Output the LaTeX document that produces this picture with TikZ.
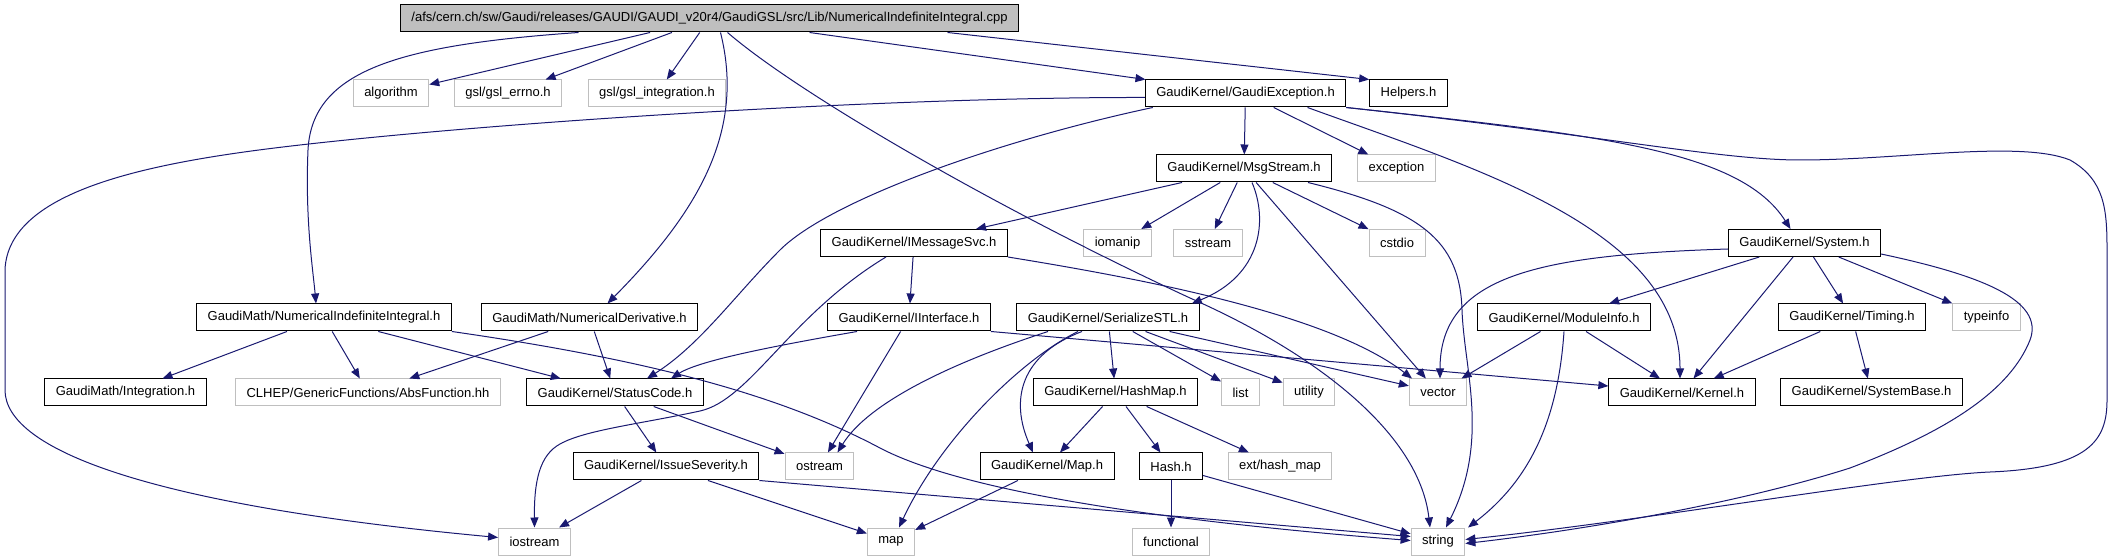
\documentclass[tikz,border=0pt]{standalone}
\usepackage{fontspec}
\setmainfont{Liberation Sans}
\usetikzlibrary{arrows.meta}
\definecolor{dox-edge}{HTML}{191970}
\definecolor{dox-gray}{HTML}{BFBFBF}
\tikzset{
  hdr/.style={draw=black, line width=0.5pt, minimum height=13.5pt, inner xsep=5.5pt, inner ysep=0pt,
    font=\fontsize{6.5}{7.8}\selectfont},
  sys/.style={hdr, draw=dox-gray},
  dep/.style={->, dox-edge, line width=0.5pt},
}

\begin{document}
\begin{tikzpicture}[x=0.5pt, y=-0.5pt, >={Triangle[length=5pt,width=4pt]}]
        \useasboundingbox (0,0) rectangle (2113,560);
        % file nodes, row by row
        \node[hdr, fill=dox-gray] (root) at (709.5,18.5) {/afs/cern.ch/sw/Gaudi/releases/GAUDI/GAUDI\_v20r4/GaudiGSL/src/Lib/NumericalIndefiniteIntegral.cpp};
        \node[sys] (algo) at (391,93.5) {algorithm};
        \node[sys] (gslerrno) at (508,93.5) {gsl/gsl\_errno.h};
        \node[sys] (gslinteg) at (657,93.5) {gsl/gsl\_integration.h};
        \node[hdr] (gexc) at (1245.5,93.5) {GaudiKernel/GaudiException.h};
        \node[hdr] (helpers) at (1408.5,93.5) {Helpers.h};
        \node[hdr] (msgstr) at (1244,168.5) {GaudiKernel/MsgStream.h};
        \node[sys] (except) at (1396.5,168.5) {exception};
        \node[hdr] (imsgsvc) at (914,243) {GaudiKernel/IMessageSvc.h};
        \node[sys] (iomanip) at (1117.5,243) {iomanip};
        \node[sys] (sstream) at (1208,243) {sstream};
        \node[sys] (cstdio) at (1397,243) {cstdio};
        \node[hdr] (system) at (1804.5,243) {GaudiKernel/System.h};
        \node[hdr] (numint) at (324,317.5) {GaudiMath/NumericalIndefiniteIntegral.h};
        \node[hdr] (numder) at (589.5,317.5) {GaudiMath/NumericalDerivative.h};
        \node[hdr] (iiface) at (909,317.5) {GaudiKernel/IInterface.h};
        \node[hdr] (serstl) at (1108,317.5) {GaudiKernel/SerializeSTL.h};
        \node[hdr] (modinfo) at (1564,317.5) {GaudiKernel/ModuleInfo.h};
        \node[hdr] (timing) at (1852,317.5) {GaudiKernel/Timing.h};
        \node[sys] (typeinfo) at (1986.5,317.5) {typeinfo};
        \node[hdr] (integr) at (125.5,392.5) {GaudiMath/Integration.h};
        \node[sys] (absfun) at (368,392.5) {CLHEP/GenericFunctions/AbsFunction.hh};
        \node[hdr] (statcode) at (615,392.5) {GaudiKernel/StatusCode.h};
        \node[hdr] (hashmap) at (1115.5,392.5) {GaudiKernel/HashMap.h};
        \node[sys] (list) at (1240.5,392.5) {list};
        \node[sys] (utility) at (1309,392.5) {utility};
        \node[sys] (vector) at (1438,392.5) {vector};
        \node[hdr] (kernel) at (1682,392.5) {GaudiKernel/Kernel.h};
        \node[hdr] (sysbase) at (1871.5,392.5) {GaudiKernel/SystemBase.h};
        \node[hdr] (severity) at (666,466.5) {GaudiKernel/IssueSeverity.h};
        \node[sys] (ostream) at (819.5,466.5) {ostream};
        \node[hdr] (maph) at (1047,466.5) {GaudiKernel/Map.h};
        \node[hdr] (hashh) at (1171,466.5) {Hash.h};
        \node[sys] (exthash) at (1280,466.5) {ext/hash\_map};
        \node[sys] (iostream) at (534.5,541.5) {iostream};
        \node[sys] (map) at (891,541.5) {map};
        \node[sys] (functional) at (1171,541.5) {functional};
        \node[sys] (string) at (1438,541.5) {string};
        % includes of the source file
        \draw[dep] (root) -- (algo);
        \draw[dep] (root) -- (gslerrno);
        \draw[dep] (root) -- (gslinteg);
        \draw[dep] ([xshift=-65.5pt]root.south) .. controls (400,45) and (312,70) .. (308,150) .. controls (305,220) and (313,270) .. ([xshift=-4pt]numint.north);
        \draw[dep] ([xshift=5.5pt]root.south) .. controls (745,130) and (700,210) .. ([xshift=9pt]numder.north);
        \draw[dep] ([xshift=9pt]root.south) .. controls (800,95) and (1000,210) .. (1190,298) .. controls (1330,360) and (1420,440) .. ([xshift=-4pt]string.north);
        \draw[dep] (root) -- (gexc);
        \draw[dep] ([xshift=119pt]root.south) -- (helpers.north west);
        % GaudiException.h
        \draw[dep] ([yshift=-2pt]gexc.west) .. controls (900,97) and (520,120) .. (300,145) .. controls (150,162) and (8,190) .. (5,270) -- (5,390) .. controls (5,450) and (150,505) .. ([yshift=2pt]iostream.west);
        \draw[dep] ([xshift=4pt]gexc.south west) .. controls (1000,140) and (830,200) .. (780,250) .. controls (735,295) and (700,345) .. ([xshift=16pt]statcode.north);
        \draw[dep] (gexc) -- (msgstr);
        \draw[dep] (gexc) -- (except);
        \draw[dep] ([xshift=31pt]gexc.south) .. controls (1480,170) and (1680,230) .. ([xshift=-1pt]kernel.north);
        \draw[dep] (gexc.south east) .. controls (1600,135) and (1740,150) .. ([xshift=-7pt]system.north);
        \draw[dep] (gexc.south east) .. controls (1600,135) and (1720,160) .. (1800,160) .. controls (1900,160) and (2020,140) .. (2070,160) .. controls (2105,180) and (2107,210) .. (2107,250) -- (2107,400) .. controls (2107,440) and (2090,468) .. (1990,472) .. controls (1900,476) and (1650,520) .. ([yshift=1pt]string.east);
        % MsgStream.h
        \draw[dep] (msgstr) -- (imsgsvc);
        \draw[dep] (msgstr) -- (iomanip);
        \draw[dep] (msgstr) -- (sstream);
        \draw[dep] ([xshift=4pt]msgstr.south) .. controls (1268,220) and (1262,275) .. ([xshift=-4pt]serstl.north east);
        \draw[dep] (msgstr) -- (vector);
        \draw[dep] (msgstr) -- (cstdio);
        \draw[dep] ([xshift=32pt]msgstr.south) .. controls (1420,210) and (1460,240) .. (1462,310) .. controls (1464,370) and (1490,440) .. ([xshift=4pt]string.north);
        % IMessageSvc.h and IInterface.h
        \draw[dep] (imsgsvc) -- (iiface);
        \draw[dep] ([xshift=-14pt]imsgsvc.south) .. controls (790,315) and (750,400) .. (700,411) .. controls (640,424) and (585,430) .. (560,444) .. controls (540,455) and (534,480) .. (iostream.north);
        \draw[dep] (imsgsvc.south east) .. controls (1150,280) and (1330,315) .. ([xshift=-13pt]vector.north);
        \draw[dep] ([xshift=-26pt]iiface.south) .. controls (780,345) and (700,360) .. ([xshift=28pt]statcode.north);
        \draw[dep] (iiface) -- (ostream);
        \draw[dep] (iiface.south east) -- (kernel);
        % SerializeSTL.h
        \draw[dep] ([xshift=-30pt]serstl.south) .. controls (960,360) and (870,400) .. ([xshift=9pt]ostream.north);
        \draw[dep] ([xshift=-15pt]serstl.south) .. controls (1020,360) and (940,440) .. ([xshift=4pt]map.north);
        \draw[dep] ([xshift=-13pt]serstl.south) .. controls (1020,355) and (1010,400) .. ([xshift=-7pt]maph.north);
        \draw[dep] (serstl) -- (hashmap);
        \draw[dep] (serstl) -- (list);
        \draw[dep] (serstl) -- (utility);
        \draw[dep] (serstl) -- (vector);
        % GaudiMath headers
        \draw[dep] (numint) -- (integr);
        \draw[dep] (numint) -- (absfun);
        \draw[dep] (numint) -- (statcode);
        \draw[dep] (numint.south east) .. controls (650,360) and (780,395) .. (880,448) .. controls (960,490) and (1150,520) .. ([yshift=0.5pt]string.west);
        \draw[dep] (numder) -- (absfun);
        \draw[dep] (numder) -- (statcode);
        % StatusCode.h and IssueSeverity.h
        \draw[dep] (statcode) -- (severity);
        \draw[dep] (statcode) -- (ostream);
        \draw[dep] (severity) -- (iostream);
        \draw[dep] (severity) -- (map);
        \draw[dep] (severity.south east) -- ([yshift=2.5pt]string.west);
        % maps and hashes
        \draw[dep] (maph) -- (map);
        \draw[dep] (hashmap) -- (maph);
        \draw[dep] (hashmap) -- (hashh);
        \draw[dep] (hashmap) -- (exthash);
        \draw[dep] (hashh) -- (functional);
        \draw[dep] (hashh) -- (string);
        % System.h and friends
        \draw[dep] (system) -- (modinfo);
        \draw[dep] (system) -- (kernel);
        \draw[dep] (system) -- (timing);
        \draw[dep] (system) -- (typeinfo);
        \draw[dep] ([yshift=-3pt]system.west) .. controls (1540,255) and (1440,275) .. ([xshift=1pt]vector.north);
        \draw[dep] ([yshift=-5.5pt]system.east) .. controls (1980,275) and (2045,300) .. (2030,340) .. controls (2010,390) and (1950,430) .. (1850,468) .. controls (1750,500) and (1600,528) .. ([yshift=-1pt]string.east);
        \draw[dep] (modinfo) -- (vector);
        \draw[dep] (modinfo) -- (kernel);
        \draw[dep] (modinfo.south) .. controls (1558,420) and (1530,480) .. ([xshift=15pt]string.north);
        \draw[dep] (timing) -- (kernel);
        \draw[dep] (timing) -- (sysbase);
\end{tikzpicture}
\end{document}
